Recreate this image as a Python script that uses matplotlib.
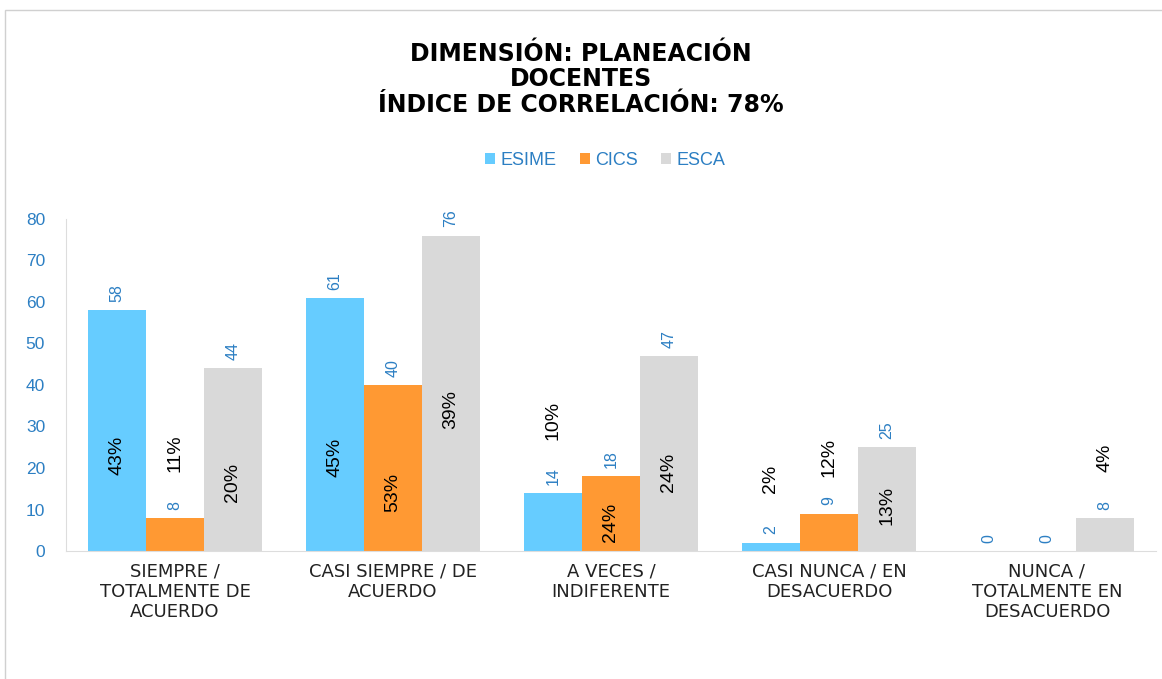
import matplotlib.pyplot as plt
import numpy as np
from matplotlib.patches import Rectangle

plt.rcParams["font.family"] = ["Liberation Sans", "DejaVu Sans"]

categories = [
    "SIEMPRE /\nTOTALMENTE DE\nACUERDO",
    "CASI SIEMPRE / DE\nACUERDO",
    "A VECES /\nINDIFERENTE",
    "CASI NUNCA / EN\nDESACUERDO",
    "NUNCA /\nTOTALMENTE EN\nDESACUERDO",
]
series = ["ESIME", "CICS", "ESCA"]
esime = [58, 61, 14, 2, 0]
cics = [8, 40, 18, 9, 0]
esca = [44, 76, 47, 25, 8]

esime_pct = ["43%", "45%", "10%", "2%", ""]
cics_pct = ["11%", "53%", "24%", "12%", ""]
esca_pct = ["20%", "39%", "24%", "13%", "4%"]

# where the percentage labels sit (centre, in data units)
esime_pct_y = [23, 22.6, 31.5, 17.5, 0]
cics_pct_y = [23.5, 14, 7, 22.6, 0]
esca_pct_y = [16.6, 34, 19, 11, 22.4]

colors = ["#66CCFF", "#FF9933", "#D9D9D9"]
blue = "#2C7FC3"

fig = plt.figure(figsize=(11.62, 6.79), dpi=100)
ax = fig.add_axes([0.0568, 0.1885, 0.938, 0.489])

x = np.arange(len(categories))
w = 0.266
values = [esime, cics, esca]
pcts = [esime_pct, cics_pct, esca_pct]
pct_y = [esime_pct_y, cics_pct_y, esca_pct_y]

for i, (vals, col, name) in enumerate(zip(values, colors, series)):
    pos = x + (i - 1) * w
    ax.bar(pos, vals, width=w, color=col, label=name, edgecolor="none")
    for p, v in zip(pos, vals):
        ax.text(p, v + 2, str(v), rotation=90, ha="center", va="bottom",
                color=blue, fontsize=11.5)
    for p, lab, yy in zip(pos, pcts[i], pct_y[i]):
        if lab:
            ax.text(p, yy, lab, rotation=90, ha="center", va="center",
                    color="black", fontsize=14)

ax.set_xlim(-0.5, len(categories) - 0.5)
ax.set_ylim(0, 80)
ax.set_yticks(range(0, 81, 10))
ax.tick_params(axis="y", length=0, labelcolor=blue, labelsize=12.5, pad=15)
ax.set_xticks(x)
ax.set_xticklabels(categories, fontsize=13, color="#222222", linespacing=1.18,
                   family="DejaVu Sans")
ax.tick_params(axis="x", length=0, pad=8)
for s in ["top", "right"]:
    ax.spines[s].set_visible(False)
ax.spines["left"].set_color("#DDDDDD")
ax.spines["bottom"].set_color("#DDDDDD")

fig.text(0.5, 0.883, "DIMENSIÓN: PLANEACIÓN\nDOCENTES\nÍNDICE DE CORRELACIÓN: 78%",
         ha="center", va="center", fontsize=17, fontweight="bold",
         family="DejaVu Sans", linespacing=1.1)

leg = fig.legend(loc="center", bbox_to_anchor=(0.521, 0.764), ncol=3,
                 frameon=False, fontsize=13, handlelength=0.55, handleheight=0.55,
                 handletextpad=0.3, columnspacing=1.3)
for t in leg.get_texts():
    t.set_color(blue)

fig.patches.append(Rectangle((5 / 1162, -0.1), 1.2, 1 - 10 / 679 + 0.1,
                             transform=fig.transFigure, fill=False,
                             edgecolor="#D0D0D0", linewidth=1))

fig.savefig("out.png", dpi=100, facecolor="white")
